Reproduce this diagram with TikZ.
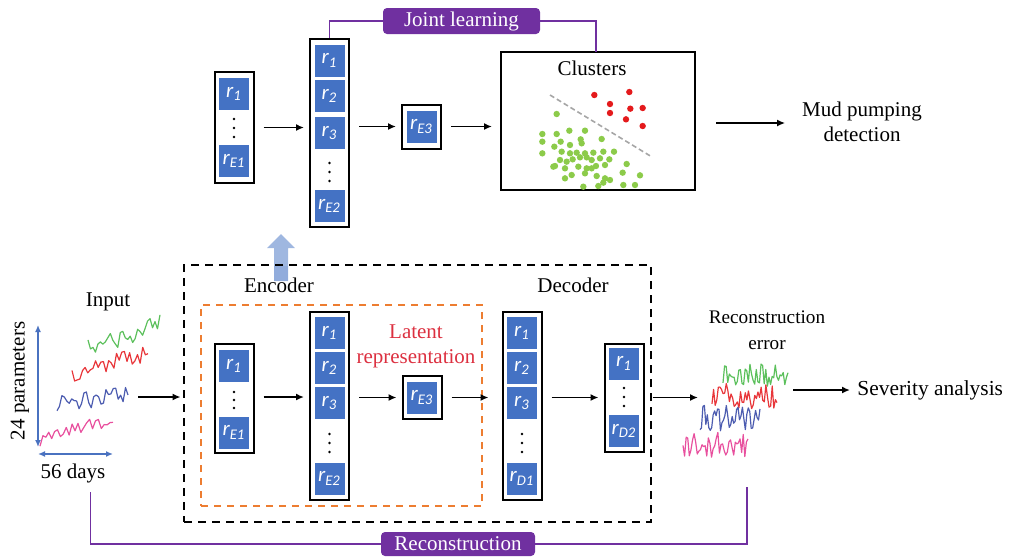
\documentclass[tikz,border=0pt]{standalone}
\usepackage{fontspec}
\setmainfont{Liberation Serif}
\newfontfamily\cellfont{Carlito}
\usetikzlibrary{arrows.meta}
\definecolor{cellblue}{HTML}{4472C4}
\definecolor{purp}{HTML}{7030A0}
\definecolor{orng}{HTML}{ED7D31}
\definecolor{latred}{HTML}{DC3040}
\definecolor{dotred}{HTML}{E41A1C}
\definecolor{dotgreen}{HTML}{8CCB4A}
\definecolor{axblue}{HTML}{4A72C0}
\definecolor{upblue}{HTML}{8EAADB}
\definecolor{tsgreen}{HTML}{5CC05C}
\definecolor{tsred}{HTML}{E8363A}
\definecolor{tsblue}{HTML}{4C5CB0}
\definecolor{tspink}{HTML}{E8509E}
\newcommand\rr[1]{r\textsubscript{#1}}
\begin{document}
\begin{tikzpicture}[x=0.5pt,y=-0.5pt,
  font=\fontsize{10.5}{12.6}\selectfont,
  cell/.style={fill=cellblue, minimum width=15pt, minimum height=16pt, inner sep=0pt,
    text=white, font=\cellfont\fontsize{10.5}{12}\selectfont\itshape},
  frame/.style={draw=black, line width=1pt, minimum width=19.5pt, inner sep=0pt},
  arr/.style={-{Latex[length=4pt,width=3.5pt]}, line width=0.9pt, shorten <=4.5pt, shorten >=2.5pt},
  purpline/.style={draw=purp, line width=0.9pt},
  purplabel/.style={fill=purp, text=white, rounded corners=2pt, minimum width=78.5pt,
    minimum height=13pt, inner sep=0pt},
  axarr/.style={{Latex[length=3.5pt,width=3pt]}-{Latex[length=3.5pt,width=3pt]}, draw=axblue, line width=0.8pt},
  ts/.style={line width=0.6pt, line join=round}]
\useasboundingbox (0,0) rectangle (1009,559);
\pgfmathsetseed{4711}

% ---------------- top row ----------------
\node[frame, minimum height=55.5pt] (tc1) at (234,127.5) {};
\node[cell] (tc1a) at (234,94) {\rr{1}};
\node[cell] (tc1b) at (234,161) {\rr{E1}};
\foreach \yy in {119,128,137} \fill (234,\yy) circle[radius=1.3];

\node[frame, minimum height=94pt] (tc2) at (329.5,133) {};
\node[cell] (tc2a) at (329.5,60.5) {\rr{1}};
\node[cell] (tc2b) at (329.5,96) {\rr{2}};
\node[cell] (tc2c) at (329.5,133) {\rr{3}};
\node[cell] (tc2d) at (329.5,206) {\rr{E2}};
\foreach \yy in {163,172,181} \fill (329.5,\yy) circle[radius=1.3];

\node[frame, minimum height=22pt] (te3) at (421.5,126.5) {};
\node[cell] (te3a) at (421.5,126.5) {\rr{E3}};

\node[draw=black, line width=1pt, minimum width=97pt, minimum height=69pt, inner sep=0pt] (clus) at (598,121) {};
\node (clustxt) at (592,68) {Clusters};
\draw[gray!70, dashed, line width=0.8pt, dash pattern=on 2.5pt off 1.5pt] (550,95) -- (652,157);
\foreach \a/\b in {313/165,418/156,360/192,360/219,421/206,458/204,408/238,458/258}
  \fill[dotred] ({490+\a/3},{40+\b/3}) circle[radius=3.2];
\foreach \a/\b in {200/222,157/282,200/282,238/272,285/272,157/305,193/320,212/305,240/315,
  272/298,275/310,335/297,157/340,215/335,240/340,260/338,285/340,310/338,340/335,372/335,
  195/378,210/360,230/365,248/358,270/352,290/352,305/360,330/355,358/358,225/385,265/380,
  290/385,318/378,345/375,410/372,225/415,245/405,285/400,320/408,345/415,398/398,450/406,
  280/440,325/438,340/428,360/420,400/435,435/435,190/380,305/385}
  \fill[dotgreen] ({490+\a/3},{40+\b/3}) circle[radius=3.2];

\node[align=center] (mud) at (862,122) {Mud pumping\\detection};

\draw[arr] (tc1.east) -- (tc1.east -| tc2.west);
\draw[arr] (te3.east -| tc2.east) -- (te3.west);
\draw[arr, shorten >=4pt] (te3.east) -- (te3.east -| clus.west);
\coordinate (ce) at (clus.east |- 0,123);
\draw[arr, shorten <=10pt, shorten >=5pt] (ce) -- (ce -| mud.west);

\node[purplabel] (joint) at (461.5,21) {Joint learning};
\draw[purpline] (tc2.north) |- (joint.west);
\draw[purpline] (joint.east) -| (596,52) coordinate (jt);

% ---------------- up arrow ----------------
\fill[upblue, opacity=0.85] (274,281) -- (274,248) -- (267,248) -- (281,234) -- (295,248) -- (288,248) -- (288,281) -- cycle;

% ---------------- autoencoder ----------------
\node[draw=black, line width=1.4pt, dash pattern=on 4pt off 3pt, minimum width=233.5pt, minimum height=128.5pt, inner sep=0pt] (aebox) at (417.5,393.5) {};
\node[draw=orng, line width=1pt, dash pattern=on 3.5pt off 3pt, minimum width=140.5pt, minimum height=100.5pt, inner sep=0pt] (latbox) at (341.5,405.5) {};
\fill[upblue, opacity=0.85] (274,266) rectangle (288,281);
\node (enc) at (279,285) {Encoder};
\node (dec) at (573,285) {Decoder};
\node[text=latred, align=center, font=\fontsize{10.5}{12.5}\selectfont] (lat) at (416,346) {Latent\\representation};

\node[frame, minimum height=54.5pt] (bc1) at (234,398.5) {};
\node[cell] (bc1a) at (234,366) {\rr{1}};
\node[cell] (bc1b) at (234,432.5) {\rr{E1}};
\foreach \yy in {392,400,408} \fill (234,\yy) circle[radius=1.3];

\node[frame, minimum height=94pt] (bc2) at (329.5,406) {};
\node[cell] (bc2a) at (329.5,333) {\rr{1}};
\node[cell] (bc2b) at (329.5,368) {\rr{2}};
\node[cell] (bc2c) at (329.5,403) {\rr{3}};
\node[cell] (bc2d) at (329.5,478.5) {\rr{E2}};
\foreach \yy in {434,443,452} \fill (329.5,\yy) circle[radius=1.3];

\node[frame, minimum height=21.5pt] (be3) at (422,397.5) {};
\node[cell] (be3a) at (422,397.5) {\rr{E3}};

\node[frame, minimum height=94pt] (d1) at (522,406) {};
\node[cell] (d1a) at (522,333) {\rr{1}};
\node[cell] (d1b) at (522,368) {\rr{2}};
\node[cell] (d1c) at (522,403) {\rr{3}};
\node[cell] (d1d) at (522,478.5) {\rr{D1}};
\foreach \yy in {434,443,452} \fill (522,\yy) circle[radius=1.3];

\node[frame, minimum height=54pt] (d2) at (624,397.5) {};
\node[cell] (d2a) at (624,363.5) {\rr{1}};
\node[cell] (d2b) at (624,431) {\rr{D2}};
\foreach \yy in {388,397,406} \fill (624,\yy) circle[radius=1.3];

\coordinate (b1e) at (bc1.east |- 0,397);
\draw[arr] (b1e) -- (b1e -| bc2.west);
\draw[arr] (be3.east -| bc2.east) -- (be3.west);
\draw[arr, shorten >=6.5pt] (be3.east) -- (be3.east -| d1.west);
\coordinate (d1e) at (d1.east |- 0,397.5);
\draw[arr] (d1e) -- (d1e -| d2.west);
\coordinate (recL) at (703,397.5);
\draw[arr, shorten <=4pt] (d2.east) -- (recL);

% ---------------- input ----------------
\node (inp) at (108,302) {Input};
\node[rotate=90] (par) at (20,381) {24 parameters};
\node (days) at (73,473) {56 days};
\coordinate (vaT) at (38,325);
\coordinate (vaB) at (38,447);
\coordinate (haL) at (38,454);
\coordinate (haR) at (113,454);
\draw[axarr] (vaT) -- (vaB);
\draw[axarr] (haL) -- (haR);
\draw[ts, tsgreen] plot[domain=0:1, samples=30] ({88+72*\x},{347-18*\x-8*(\x>0.8)+8*rand});
\draw[ts, tsred] plot[domain=0:1, samples=30] ({72+76*\x},{376-24*\x+9*rand});
\draw[ts, tsblue] plot[domain=0:1, samples=30] ({57+71*\x},{405-10*\x+9*rand});
\draw[ts, tspink] plot[domain=0:1, samples=26] ({40+73*\x},{440-22*\x+7*rand});
\coordinate (inR) at (138,397);
\draw[arr, shorten <=0pt, shorten >=1pt] (inR) -- (inR -| aebox.west);

% ---------------- reconstruction error ----------------
\node[align=center, font=\fontsize{9.6}{13}\selectfont] (recerr) at (767,330) {Reconstruction\\error};
\draw[ts, tsgreen] plot[domain=0:1, samples=42] ({723+65*\x},{374+13*rand});
\draw[ts, tsred] plot[domain=0:1, samples=42] ({712+65*\x},{396+13*rand});
\draw[ts, tsblue] plot[domain=0:1, samples=42] ({700+60*\x},{418+13*rand});
\draw[ts, tspink] plot[domain=0:1, samples=42] ({683+65*\x},{446+14*rand});
\node[anchor=west, inner sep=1pt, font=\fontsize{10.7}{13}\selectfont] (sev) at (855,390) {Severity analysis};
\coordinate (reR) at (793,390);
\draw[arr, shorten <=0pt] (reR) -- (sev.west);

% ---------------- reconstruction loop ----------------
\node[purplabel, minimum width=77pt, minimum height=12pt] (recon) at (458,544) {Reconstruction};
\coordinate (recA) at (90.5,492);
\coordinate (recB) at (747,487);
\draw[purpline] (recA) |- (recon.west);
\draw[purpline] (recon.east) -| (recB);
\end{tikzpicture}
\end{document}
